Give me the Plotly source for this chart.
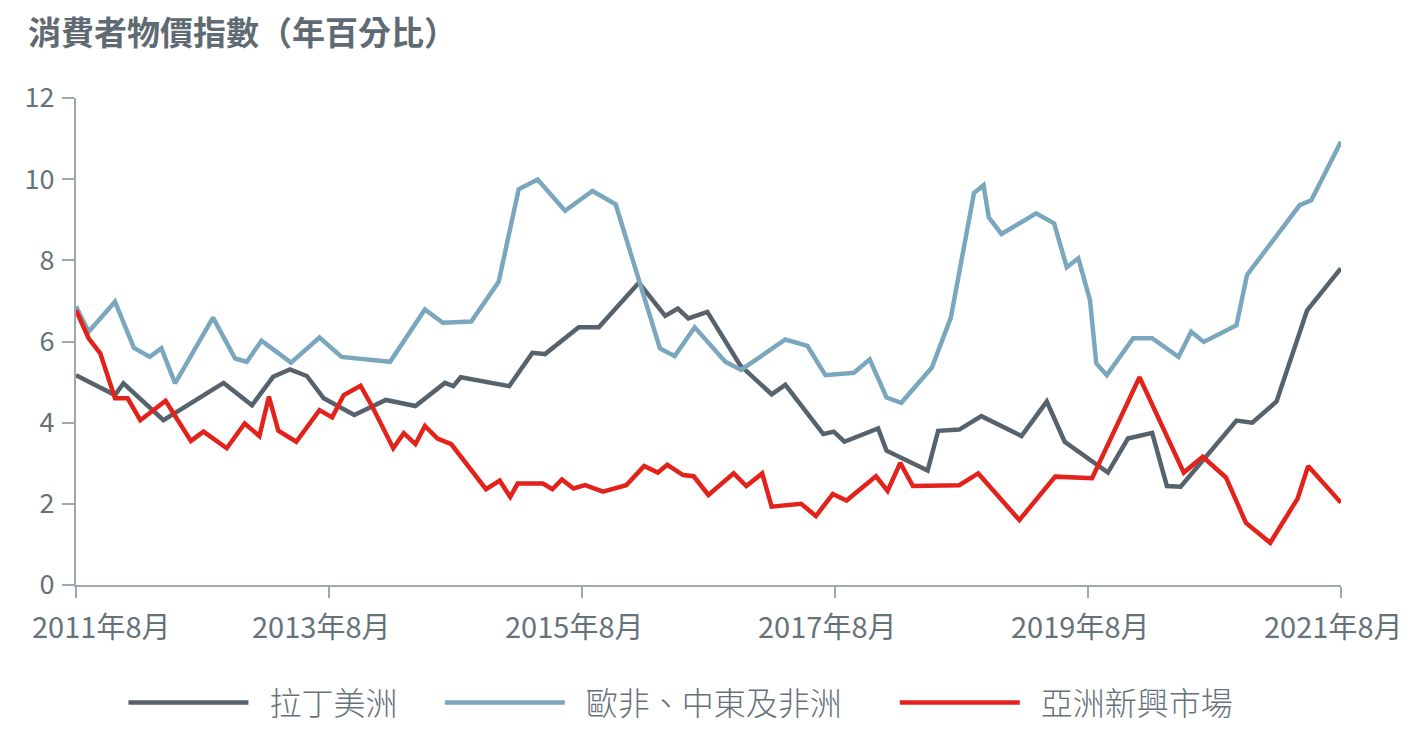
import numpy as np
import pandas as pd
import plotly.graph_objects as go

START = pd.Timestamp("2011-08-01")

# month offsets from Aug 2011 and CPI YoY values
latam_months = [0, 3.7, 4.5, 8.3, 14.0, 16.7, 18.7, 20.3, 21.9, 23.5, 26.4, 29.4, 32.2, 35.0, 35.8,
                36.5, 41.1, 43.3, 44.5, 47.7, 49.6, 53.4, 55.9, 57.1, 58.1, 59.9, 63.0, 66.0, 67.3,
                70.9, 71.9, 72.9, 76.1, 76.9, 80.8, 81.8, 83.8, 85.9, 89.7, 92.1, 93.8, 97.9, 99.8,
                102.1, 103.5, 104.8, 110.1, 111.6, 113.9, 116.8, 120]
latam_cpi = [5.17, 4.68, 4.97, 4.06, 4.98, 4.43, 5.13, 5.31, 5.15, 4.60, 4.19, 4.56, 4.41, 4.98, 4.90,
             5.12, 4.90, 5.72, 5.69, 6.35, 6.35, 7.45, 6.63, 6.81, 6.57, 6.73, 5.42, 4.70, 4.93,
             3.72, 3.78, 3.53, 3.86, 3.31, 2.82, 3.80, 3.83, 4.16, 3.67, 4.52, 3.53, 2.77, 3.61,
             3.75, 2.44, 2.42, 4.05, 4.00, 4.52, 6.77, 7.80]

emea_months = [0, 1.2, 3.7, 5.5, 7.0, 8.1, 9.4, 13.0, 15.1, 16.2, 17.6, 20.4, 23.1, 25.2, 29.8,
               33.1, 34.8, 37.5, 40.1, 42.0, 43.8, 46.4, 49.0, 51.2, 55.4, 56.8, 58.7, 61.6, 63.1,
               67.3, 69.4, 71.1, 73.8, 75.3, 76.9, 78.3, 81.2, 83.0, 85.2, 86.1, 86.6, 87.8, 91.1,
               92.8, 94.0, 95.1, 96.2, 96.8, 97.8, 100.3, 102.1, 104.6, 105.8, 107.0, 110.1, 111.1,
               116.1, 117.2, 120]
emea_cpi = [6.86, 6.24, 6.98, 5.84, 5.62, 5.83, 4.97, 6.59, 5.58, 5.50, 6.02, 5.48, 6.10, 5.62, 5.50,
            6.79, 6.46, 6.49, 7.47, 9.75, 9.99, 9.22, 9.71, 9.38, 5.83, 5.64, 6.35, 5.50, 5.30,
            6.05, 5.89, 5.17, 5.23, 5.56, 4.62, 4.49, 5.36, 6.59, 9.66, 9.85, 9.06, 8.65, 9.16,
            8.91, 7.83, 8.05, 7.02, 5.46, 5.17, 6.08, 6.08, 5.62, 6.24, 5.99, 6.40, 7.64,
            9.36, 9.48, 10.92]

asia_months = [0, 1.2, 2.3, 3.7, 4.9, 6.1, 8.5, 10.9, 12.1, 14.3, 16.0, 17.4, 18.3, 19.2, 20.9,
               23.1, 24.3, 25.4, 27.0, 28.2, 30.1, 31.1, 32.2, 33.1, 34.3, 35.6, 38.9, 40.2, 41.2,
               41.9, 44.3, 45.2, 46.1, 47.2, 48.3, 50.0, 52.2, 53.9, 55.2, 56.1, 57.6, 58.6, 60.0,
               62.4, 63.6, 65.1, 66.0, 68.8, 70.2, 71.8, 73.1, 75.9, 77.0, 78.2, 79.4, 83.8, 85.6,
               89.5, 92.9, 96.4, 100.9, 105.1, 106.9, 109.1, 111.0, 113.3, 115.9, 116.9, 120]
asia_cpi = [6.77, 6.08, 5.71, 4.60, 4.60, 4.06, 4.54, 3.55, 3.78, 3.37, 3.98, 3.67, 4.64, 3.80, 3.53,
            4.31, 4.13, 4.68, 4.91, 4.35, 3.37, 3.74, 3.47, 3.92, 3.61, 3.47, 2.36, 2.57, 2.17,
            2.50, 2.50, 2.36, 2.60, 2.38, 2.46, 2.30, 2.46, 2.93, 2.77, 2.96, 2.71, 2.68, 2.22,
            2.75, 2.44, 2.75, 1.93, 2.00, 1.70, 2.24, 2.08, 2.68, 2.32, 3.01, 2.44, 2.46, 2.75,
            1.60, 2.67, 2.63, 5.12, 2.77, 3.16, 2.65, 1.53, 1.04, 2.13, 2.93, 2.03]

series_names = ["拉丁美洲", "歐非、中東及非洲", "亞洲新興市場"]
x_ticks = ["2011-08-01", "2013-08-01", "2015-08-01", "2017-08-01", "2019-08-01", "2021-08-01"]
x_tick_labels = ["2011年8月", "2013年8月", "2015年8月", "2017年8月", "2019年8月", "2021年8月"]
y_ticks = [0, 2, 4, 6, 8, 10, 12]

LATAM = "#56626c"
EMEA = "#7aa7bd"
ASIA = "#e3221b"
AXIS = "#9ea8b0"
TEXT = "#66727a"
FONT = "Noto Sans CJK TC"
TICK_FONT = "Liberation Sans Narrow, Noto Sans CJK TC"

# page body has an 8px margin, so the figure is a little smaller than the window
W, H = 1413, 748


def to_dates(months):
    return START + pd.to_timedelta(np.array(months) * 30.4375, unit="D")


# padding around legend labels (leading en space, trailing spaces)
legend_labels = [
    "\u2002" + series_names[0] + "\u3000\u2006",
    "\u2002" + series_names[1] + "\u3000\u2002",
    "\u2002" + series_names[2],
]

fig = go.Figure()
for label, months, vals, color in [
    (legend_labels[0], latam_months, latam_cpi, LATAM),
    (legend_labels[1], emea_months, emea_cpi, EMEA),
    (legend_labels[2], asia_months, asia_cpi, ASIA),
]:
    fig.add_trace(
        go.Scatter(
            x=to_dates(months),
            y=vals,
            mode="lines",
            name=label,
            line=dict(color=color, width=4.5),
        )
    )

# x tick labels as annotations: the first one starts inside the chart,
# the rest sit slightly left of their tick
for i, (tick, text) in enumerate(zip(x_ticks, x_tick_labels)):
    fig.add_annotation(
        x=tick, xref="x",
        y=0, yref="paper",
        text=text,
        showarrow=False,
        xanchor="left" if i == 0 else "center",
        xshift=-46 if i == 0 else -8,
        yanchor="top",
        yshift=-17,
        font=dict(family=TICK_FONT, size=29, color=TEXT),
    )

fig.update_layout(
    width=W,
    height=H,
    paper_bgcolor="white",
    plot_bgcolor="white",
    margin=dict(l=68, r=80, t=90, b=171, autoexpand=False),
    font=dict(family=FONT, color=TEXT, size=24),
    title=dict(
        text="消費者物價指數（年百分比）",
        x=20 / W, xanchor="left", xref="container",
        y=1 - 25 / H, yanchor="middle", yref="container",
        font=dict(family=FONT, size=33, color="#5f6a72", weight=700),
    ),
    showlegend=True,
    legend=dict(
        orientation="h",
        x=0.0375, xanchor="left",
        y=-0.185, yanchor="top",
        font=dict(family=FONT, size=32, color=TEXT, weight=300),
        itemwidth=120,
    ),
)

fig.update_xaxes(
    type="date",
    range=[x_ticks[0], x_ticks[-1]],
    tickvals=x_ticks,
    showticklabels=False,
    showgrid=False,
    zeroline=False,
    showline=True,
    linecolor=AXIS,
    linewidth=2,
    ticks="outside",
    ticklen=11,
    tickwidth=2,
    tickcolor=AXIS,
    automargin=False,
)
fig.update_yaxes(
    range=[0, 12],
    tickvals=y_ticks,
    showgrid=False,
    zeroline=False,
    showline=True,
    linecolor=AXIS,
    linewidth=2,
    ticks="outside",
    ticklen=12,
    tickwidth=2,
    tickcolor=AXIS,
    ticklabelstandoff=2,
    tickfont=dict(family=TICK_FONT, size=27, color=TEXT),
    automargin=False,
)

fig.write_html("out.html")
